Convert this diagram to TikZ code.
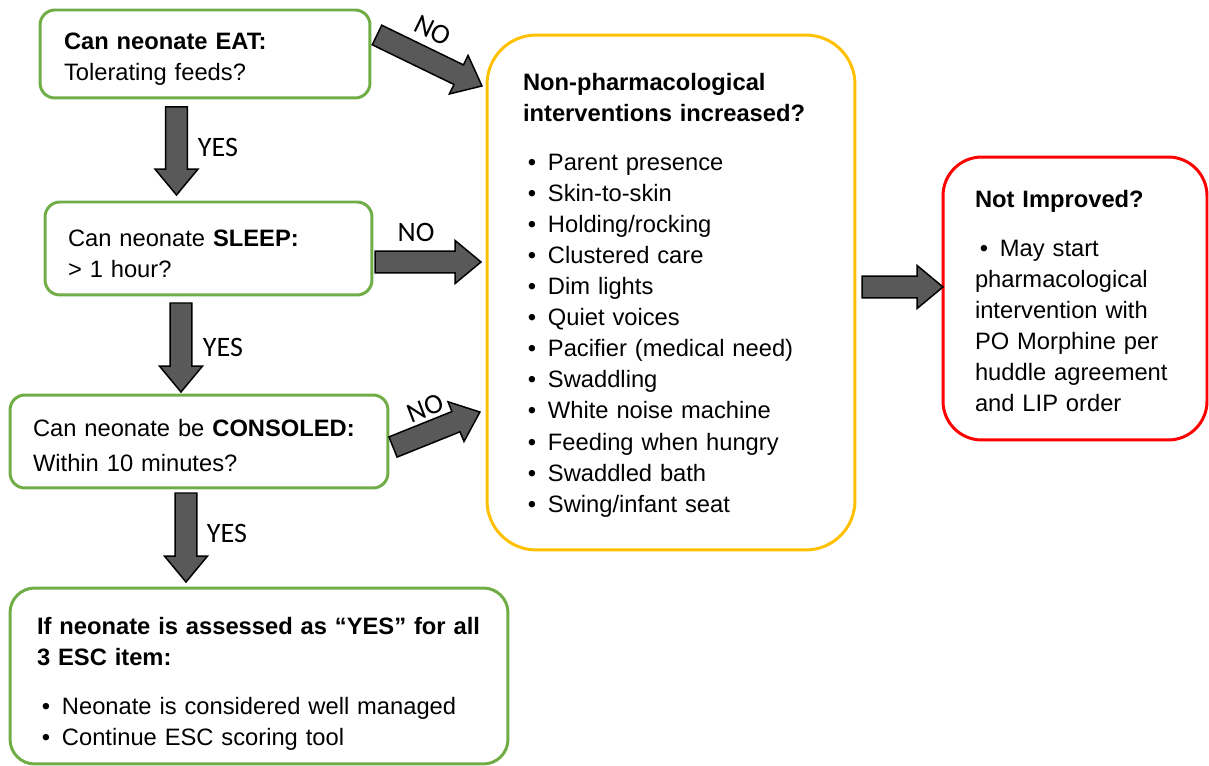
\documentclass[tikz,border=0pt]{standalone}
\usepackage{fontspec}
\setmainfont{Liberation Sans}
\newfontfamily\labelfont{Carlito}
\usetikzlibrary{calc}

\definecolor{escgreen}{HTML}{70AD47}
\definecolor{escyellow}{HTML}{FFC000}
\definecolor{escred}{HTML}{FF0000}
\definecolor{arrowgray}{HTML}{595959}

% bullet with small indent
\newcommand{\itm}{\makebox[14.2pt][l]{\hspace{2.8pt}\textbullet}}
% strut that pushes the text block down a little
\newcommand{\topgap}[1]{\rule{0pt}{#1}}

\tikzset{
  box/.style={draw, line width=1.7pt, align=left, inner ysep=0pt,
    font=\fontsize{13.5}{17.7}\selectfont},
  greenbox/.style={box, draw=escgreen, rounded corners=8.5pt},
  answer/.style={font=\labelfont\fontsize{16}{16}\selectfont, inner sep=0pt},
  blockarrow/.style={draw=black, line width=0.85pt, fill=arrowgray, line join=miter,
    to path={let \p1=(\tikztostart), \p2=(\tikztotarget),
      \n1={atan2(\y2-\y1,\x2-\x1)}, \n2={veclen(\x2-\x1,\y2-\y1)} in
      [shift={(\p1)}, rotate=\n1]
      (0pt,-6.2pt) -- ({\n2*1pt-14.7pt},-6.2pt) -- ({\n2*1pt-14.7pt},-12.2pt)
      -- ({\n2*1pt},0pt) -- ({\n2*1pt-14.7pt},12.2pt) -- ({\n2*1pt-14.7pt},6.2pt)
      -- (0pt,6.2pt) -- cycle}}
}

\begin{document}
\begin{tikzpicture}[x=0.02cm, y=-0.02cm]
\useasboundingbox (0,0) rectangle (1209,766);

% the three ESC questions
\node[greenbox, text width=5.64cm, inner xsep=0.48cm, minimum height=1.76cm] (eat) at (205,54)
  {\topgap{15.6pt}\textbf{Can neonate EAT:}\\Tolerating feeds?};
\node[greenbox, text width=5.62cm, inner xsep=0.46cm, minimum height=1.86cm] (sleep) at (208.5,248.5)
  {\topgap{15.8pt}Can neonate \textbf{SLEEP:}\\> 1 hour?};
\node[greenbox, text width=6.64cm, inner xsep=0.46cm, minimum height=1.86cm] (console) at (199,441.5)
  {\topgap{14.4pt}Can neonate be \textbf{CONSOLED:}\\[2pt]Within 10 minutes?};
\node[box, draw=escgreen, rounded corners=14pt, text width=8.88cm, inner xsep=0.54cm, minimum height=3.52cm] (wellmanaged) at (259,676)
  {\topgap{18.9pt}\textbf{If neonate is assessed as “YES” for all}\\\textbf{3 ESC item:}\\[10pt]
   \itm Neonate is considered well managed\\\itm Continue ESC scoring tool};

% interventions
\node[box, draw=escyellow, rounded corners=28pt, text width=5.92cm, inner xsep=0.72cm, minimum height=10.3cm] (nonpharm) at (671,292.5)
  {\topgap{12.8pt}\textbf{Non-pharmacological}\\\textbf{interventions increased?}\\[10pt]
   \itm Parent presence\\\itm Skin-to-skin\\\itm Holding/rocking\\\itm Clustered care\\
   \itm Dim lights\\\itm Quiet voices\\\itm Pacifier (medical need)\\\itm Swaddling\\
   \itm White noise machine\\\itm Feeding when hungry\\\itm Swaddled bath\\\itm Swing/infant seat};
\node[box, draw=escred, rounded corners=22pt, text width=4.0cm, inner xsep=0.64cm, minimum height=5.66cm] (notimproved) at (1075,298.5)
  {\topgap{12.8pt}\textbf{Not Improved?}\\[10pt]\itm May start\\pharmacological\\intervention with\\
   PO Morphine per\\huddle agreement\\and LIP order};

% arrow ends
\coordinate (y1s) at (176.5,107);
\coordinate (y1e) at (176.5,195);
\coordinate (y2s) at (181,303);
\coordinate (y2e) at (181,392);
\coordinate (y3s) at (186,493);
\coordinate (y3e) at (186,582);
\coordinate (n1s) at (377,35);
\coordinate (n1e) at (482,86);
\coordinate (n2s) at (375,262);
\coordinate (n2e) at (481,262);
\coordinate (n3s) at (393,447);
\coordinate (n3e) at (480,412);
\coordinate (n4s) at (862,287);
\coordinate (n4e) at (943,287);

% YES arrows
\draw[blockarrow] (y1s) to (y1e);
\draw[blockarrow] (y2s) to (y2e);
\draw[blockarrow] (y3s) to (y3e);
% NO arrows
\draw[blockarrow] (n1s) to (n1e);
\draw[blockarrow] (n2s) to (n2e);
\draw[blockarrow] (n3s) to (n3e);
\draw[blockarrow] (n4s) to (n4e);

% labels
\node[answer] (yes1) at (218,147) {YES};
\node[answer] (yes2) at (223,347) {YES};
\node[answer] (yes3) at (227,533) {YES};
\node[answer, rotate=-26] (no1) at (433,30) {NO};
\node[answer] (no2) at (416,232) {NO};
\node[answer, rotate=21] (no3) at (425,408) {NO};
\end{tikzpicture}
\end{document}
